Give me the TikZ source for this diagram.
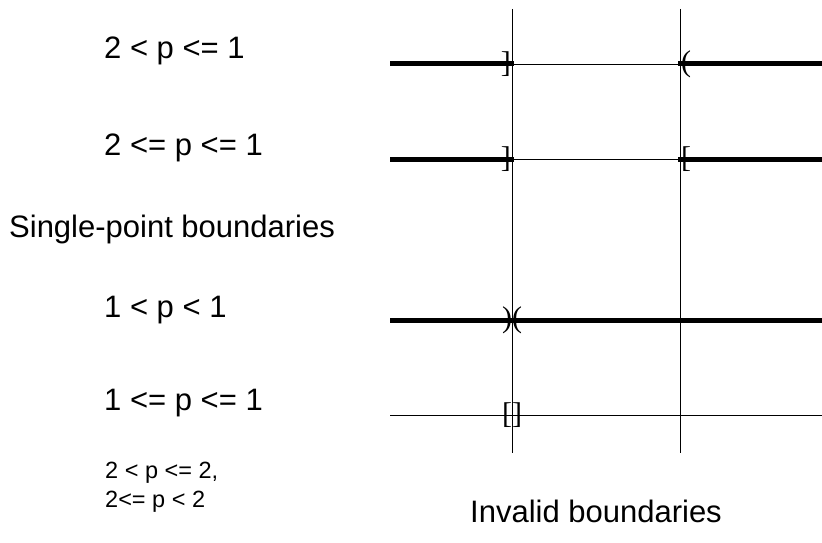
\documentclass[tikz,border=0pt]{standalone}
\usepackage{fontspec}
\setmainfont{Liberation Sans}
\newfontfamily\brkfont{Liberation Serif}
\usepackage{tikz}
\usetikzlibrary{positioning, calc}

\tikzset{
  lbl/.style={anchor=base west, inner sep=0pt, font=\fontsize{31}{35}\selectfont},
  smalllbl/.style={anchor=base west, inner sep=0pt, align=left, font=\fontsize{23.5}{29}\selectfont},
  brk/.style={inner sep=0pt, font=\brkfont\fontsize{30}{30}\selectfont},
  thin line/.style={line width=0.9pt},
  thick line/.style={line width=5pt}
}

\begin{document}
\begin{tikzpicture}[x=1pt, y=-1pt]
  \useasboundingbox (0,0) rectangle (822,543);

  % Axes
  \coordinate (lo top) at (512,9);
  \coordinate (lo bot) at (512,453);
  \coordinate (hi top) at (680,9);
  \coordinate (hi bot) at (680,453);
  \draw[thin line] (lo top) -- (lo bot);
  \draw[thin line] (hi top) -- (hi bot);

  % Two-point boundaries
  \node[lbl] (r1) at (104,59) {2 < p <= 1};
  \draw[thin line] (390,64) -- (822,64);
  \draw[thick line] (390,64) -- (514,64);
  \draw[thick line] (678,64) -- (822,64);
  \node[brk, anchor=east] (r1a) at (511,64) {]};
  \node[brk, anchor=west] (r1b) at (681,64) {(};

  \node[lbl] (r2) at (104,155) {2 <= p <= 1};
  \draw[thin line] (390,159) -- (822,159);
  \draw[thick line] (390,159) -- (514,159);
  \draw[thick line] (678,159) -- (822,159);
  \node[brk, anchor=east] (r2a) at (511,159) {]};
  \node[brk, anchor=west] (r2b) at (681,159) {[};

  % Single-point boundaries
  \node[lbl] (single) at (9,237) {Single-point boundaries};

  \node[lbl] (r3) at (104,317) {1 < p < 1};
  \draw[thick line] (390,320) -- (822,320);
  \node[brk] (r3a) at (512,320) {)(};

  \node[lbl] (r4) at (104,410) {1 <= p <= 1};
  \draw[thin line] (390,415) -- (822,415);
  \node[brk] (r4a) at (512,415) {[]};

  % Invalid boundaries
  \node[smalllbl] (r5) at (105,507) {2 < p <= 2,\\2<= p < 2};
  \node[lbl] (invalid) at (470,522) {Invalid boundaries};
\end{tikzpicture}
\end{document}
